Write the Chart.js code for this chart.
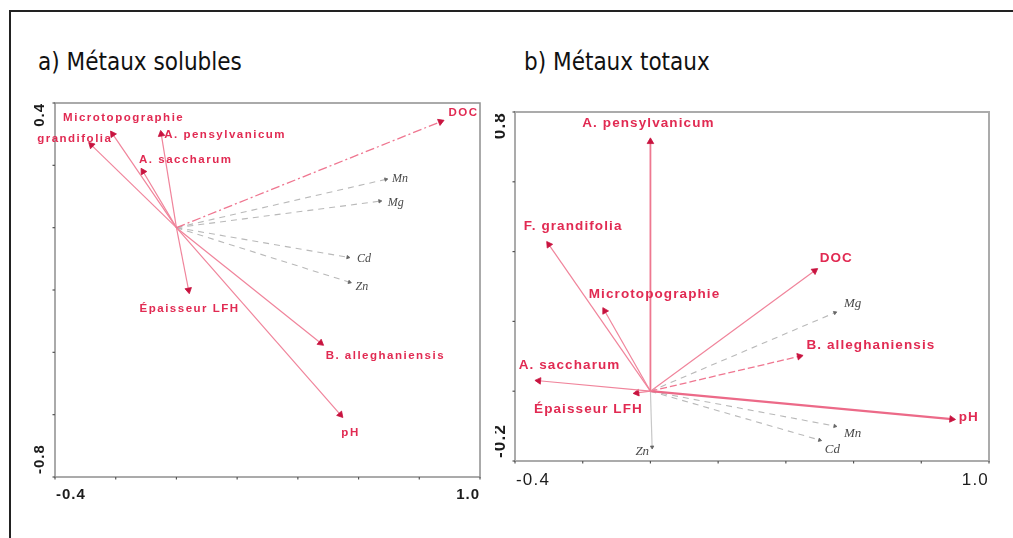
<!DOCTYPE html>
<html lang="fr">
<head>
<meta charset="utf-8">
<title>Métaux solubles et totaux – biplots</title>
<script src="https://cdn.jsdelivr.net/npm/chart.js@4.4.0/dist/chart.umd.min.js"></script>
<style>
  html, body { margin: 0; padding: 0; background: #fff; }
  #page { position: relative; width: 1013px; height: 538px; overflow: hidden; background: #fff; }
  .frame-top { position: absolute; left: 10px; top: 10px; width: 1003px; height: 2px; background: #222; }
  .frame-left { position: absolute; left: 9px; top: 10px; width: 2px; height: 528px; background: #222; }
  .title { position: absolute; font-family: "DejaVu Sans Condensed", "DejaVu Sans", sans-serif; font-stretch: condensed;
           font-size: 24px; color: #111; white-space: nowrap; line-height: 1; }
  canvas { position: absolute; top: 0; }
</style>
</head>
<body>
<div id="page">
  <div class="frame-top"></div>
  <div class="frame-left"></div>
  <div class="title" style="left:38px; top:50px;">a) Métaux solubles</div>
  <div class="title" style="left:524px; top:50px;">b) Métaux totaux</div>
  <canvas id="solubles" width="500" height="538" style="left:0px;"></canvas>
  <canvas id="totaux" width="518" height="538" style="left:495px;"></canvas>
</div>
<script>
// ---- Axis ranges and ticks ----
const xTicks = [-0.4, -0.2, 0.0, 0.2, 0.4, 0.6, 0.8, 1.0];
const yTicksSolubles = [-0.8, -0.6, -0.4, -0.2, 0.0, 0.2, 0.4];
const yTicksTotaux = [-0.2, 0.0, 0.2, 0.4, 0.6, 0.8];
const xTickLabels = ["-0.4", "1.0"];
const yTickLabelsSolubles = ["-0.8", "0.4"];
const yTickLabelsTotaux = ["-0.2", "0.8"];

// ---- a) Métaux solubles : vector end points ----
const namesSolubles = ["DOC", "Microtopographie", "grandifolia", "A. pensylvanicum", "A. saccharum",
  "Épaisseur LFH", "B. alleghaniensis", "pH", "Mn", "Mg", "Cd", "Zn"];
const xSolubles = [0.87, -0.21, -0.28, -0.05, -0.11, 0.04, 0.475, 0.54, 0.69, 0.67, 0.565, 0.57];
const ySolubles = [0.34, 0.30, 0.265, 0.30, 0.18, -0.20, -0.37, -0.60, 0.155, 0.085, -0.095, -0.175];

// ---- b) Métaux totaux : vector end points ----
const namesTotaux = ["A. pensylvanicum", "F. grandifolia", "Microtopographie", "DOC", "Mg",
  "B. alleghaniensis", "A. saccharum", "Épaisseur LFH", "pH", "Mn", "Cd", "Zn"];
const xTotaux = [0.0, -0.30, -0.135, 0.485, 0.545, 0.44, -0.33, -0.04, 0.89, 0.545, 0.50, 0.005];
const yTotaux = [0.715, 0.42, 0.23, 0.345, 0.225, 0.10, 0.03, -0.005, -0.08, -0.10, -0.14, -0.16];

const metals = ["Mn", "Mg", "Cd", "Zn"];

// ---- Styling ----
const PINK_LINE = "#f0849b";
const RED_HEAD = "#c8133f";
const RED_TEXT = "#e12a52";
const GREY_LINE = "#b9b9b9";
const GREY_TEXT = "#4a4a4a";

// Label placement relative to the arrow tip (pixels): [dx, dy, align]
const labelPosSolubles = {
  "DOC": [8, -9, "left"], "Microtopographie": [11, -16, "center"], "grandifolia": [21, -6, "right"],
  "A. pensylvanicum": [3, 1, "left"], "A. saccharum": [-4, -12, "left"], "Épaisseur LFH": [1, 19, "center"],
  "B. alleghaniensis": [5, 13, "left"], "pH": [1, 18, "left"],
  "Mn": [6, -1, "left"], "Mg": [8, 2, "left"], "Cd": [9, 2, "left"], "Zn": [6, 5, "left"]
};
const labelPosTotaux = {
  "A. pensylvanicum": [-2, -18, "center"], "F. grandifolia": [-25, -18, "left"], "Microtopographie": [-16, -17, "left"],
  "DOC": [5, -13, "left"], "Mg": [9, -9, "left"], "B. alleghaniensis": [7, -11, "left"],
  "A. saccharum": [-20, -15, "left"], "Épaisseur LFH": [6, 16, "right"], "pH": [7, -2, "left"],
  "Mn": [9, 7, "left"], "Cd": [5, 10, "left"], "Zn": [-3, 5, "right"]
};

function lineStyle(panel, name) {
  const isMetal = metals.includes(name);
  if (isMetal) {
    if (panel === "b" && name === "Zn") return { color: "#c8c8c8", width: 1.2, dash: [] };
    return { color: GREY_LINE, width: 1.1, dash: [6, 5] };
  }
  if (panel === "a" && name === "DOC") return { color: "#ef7690", width: 1.3, dash: [9, 3, 2, 3] };
  if (panel === "b" && name === "B. alleghaniensis") return { color: "#ef7690", width: 1.3, dash: [7, 3] };
  if (panel === "b" && name === "pH") return { color: "#ec6a88", width: 2.2, dash: [] };
  if (panel === "b" && name === "A. pensylvanicum") return { color: "#ee7890", width: 1.8, dash: [] };
  return { color: PINK_LINE, width: 1.2, dash: [] };
}

function arrowAngle(ctx) {
  const chart = ctx.chart;
  const p = ctx.raw;
  const sx = chart.scales.x, sy = chart.scales.y;
  const dx = sx.getPixelForValue(p.x) - sx.getPixelForValue(0);
  const dy = sy.getPixelForValue(p.y) - sy.getPixelForValue(0);
  return Math.atan2(dx, -dy) * 180 / Math.PI;
}

function buildDatasets(panel, names, xs, ys) {
  return names.map((name, i) => {
    const st = lineStyle(panel, name);
    const isMetal = metals.includes(name);
    return {
      label: name,
      data: [{ x: 0, y: 0 }, { x: xs[i], y: ys[i] }],
      showLine: true,
      borderColor: st.color,
      borderWidth: st.width,
      borderDash: st.dash,
      pointRadius: [0, isMetal ? 2 : 3.8],
      pointStyle: "triangle",
      pointBackgroundColor: isMetal ? "#666" : RED_HEAD,
      pointBorderColor: isMetal ? "#666" : RED_HEAD,
      pointBorderWidth: 0.8,
      rotation: arrowAngle,
      clip: false,
      order: isMetal ? 2 : 1
    };
  });
}

// Frame, tick marks and end-of-axis labels drawn from the chart's scales
function axesPlugin(cfg) {
  return {
    id: "biplotAxes",
    beforeDatasetsDraw(chart) {
      const { ctx, chartArea: a, scales } = chart;
      const sx = scales.x, sy = scales.y;
      ctx.save();
      ctx.strokeStyle = cfg.frameColor;
      ctx.lineWidth = cfg.frameWidth;
      ctx.strokeRect(a.left, a.top, a.right - a.left, a.bottom - a.top);
      ctx.strokeStyle = "#555";
      ctx.lineWidth = 1.2;
      xTicks.forEach(v => {
        const px = sx.getPixelForValue(v);
        ctx.beginPath(); ctx.moveTo(px, a.bottom); ctx.lineTo(px, a.bottom + 2.5); ctx.stroke();
      });
      cfg.yTicks.forEach(v => {
        const py = sy.getPixelForValue(v);
        ctx.beginPath(); ctx.moveTo(a.left, py); ctx.lineTo(a.left - 2.5, py); ctx.stroke();
      });
      ctx.fillStyle = "#1c1c1c";
      if ("letterSpacing" in ctx) ctx.letterSpacing = cfg.tickSpacing;
      ctx.textBaseline = "middle";
      ctx.font = cfg.tickFont;
      ctx.textAlign = "left";
      ctx.fillText(xTickLabels[0], sx.getPixelForValue(xTicks[0]) + 1, a.bottom + cfg.xLabelGap);
      ctx.textAlign = "right";
      ctx.fillText(xTickLabels[1], sx.getPixelForValue(xTicks[xTicks.length - 1]), a.bottom + cfg.xLabelGap);
      const yMin = cfg.yTicks[0], yMax = cfg.yTicks[cfg.yTicks.length - 1];
      ctx.font = cfg.yTickFont;
      ctx.save();
      ctx.translate(a.left - cfg.yLabelGap, sy.getPixelForValue(yMax));
      ctx.rotate(-Math.PI / 2);
      ctx.textAlign = "right";
      ctx.fillText(cfg.yLabels[1], 0, 0);
      ctx.restore();
      ctx.save();
      ctx.translate(a.left - cfg.yLabelGap, sy.getPixelForValue(yMin));
      ctx.rotate(-Math.PI / 2);
      ctx.textAlign = "left";
      ctx.fillText(cfg.yLabels[0], 3, 0);
      ctx.restore();
      ctx.restore();
    }
  };
}

// Names of the vectors next to each arrow tip
function labelPlugin(cfg) {
  return {
    id: "vectorLabels",
    afterDatasetsDraw(chart) {
      const { ctx, scales } = chart;
      ctx.save();
      ctx.textBaseline = "middle";
      chart.data.datasets.forEach(ds => {
        const name = ds.label;
        const tip = ds.data[1];
        const px = scales.x.getPixelForValue(tip.x);
        const py = scales.y.getPixelForValue(tip.y);
        const pos = cfg.positions[name];
        const isMetal = metals.includes(name);
        ctx.font = isMetal ? cfg.metalFont : cfg.font;
        ctx.fillStyle = isMetal ? GREY_TEXT : RED_TEXT;
        if ("letterSpacing" in ctx) ctx.letterSpacing = isMetal ? "0px" : cfg.spacing;
        ctx.textAlign = pos[2];
        ctx.fillText(name, px + pos[0], py + pos[1]);
      });
      ctx.restore();
    }
  };
}

function makeChart(id, panel, names, xs, ys, yMin, yMax, padding, axesCfg, labelCfg) {
  return new Chart(document.getElementById(id), {
    type: "scatter",
    data: { datasets: buildDatasets(panel, names, xs, ys) },
    options: {
      responsive: false,
      animation: false,
      events: [],
      layout: { padding },
      scales: {
        x: { type: "linear", min: -0.4, max: 1.0, display: false },
        y: { type: "linear", min: yMin, max: yMax, display: false }
      },
      plugins: { legend: { display: false }, tooltip: { enabled: false } }
    },
    plugins: [axesPlugin(axesCfg), labelPlugin(labelCfg)]
  });
}

makeChart("solubles", "a", namesSolubles, xSolubles, ySolubles, -0.8, 0.4,
  { left: 55, top: 103, right: 20, bottom: 61 },
  { frameColor: "#8f8f8f", frameWidth: 1.5, yTicks: yTicksSolubles, yLabels: yTickLabelsSolubles,
    tickFont: "bold 15px 'Liberation Sans', Arial, sans-serif", yTickFont: "bold 15px 'Liberation Sans', Arial, sans-serif",
    tickSpacing: "1px", xLabelGap: 18, yLabelGap: 15 },
  { positions: labelPosSolubles, font: "bold 11.5px 'Liberation Sans', Arial, sans-serif", spacing: "1.5px",
    metalFont: "italic 12px 'Liberation Serif', 'DejaVu Serif', serif" });

makeChart("totaux", "b", namesTotaux, xTotaux, yTotaux, -0.2, 0.8,
  { left: 20, top: 112, right: 24, bottom: 77 },
  { frameColor: "#ababab", frameWidth: 2, yTicks: yTicksTotaux, yLabels: yTickLabelsTotaux,
    tickFont: "17px 'Liberation Sans', Arial, sans-serif", yTickFont: "bold 17px 'Liberation Sans', Arial, sans-serif",
    tickSpacing: "1.2px", xLabelGap: 19, yLabelGap: 15 },
  { positions: labelPosTotaux, font: "bold 13.5px 'Liberation Sans', Arial, sans-serif", spacing: "1.1px",
    metalFont: "italic 13px 'Liberation Serif', 'DejaVu Serif', serif" });
</script>
</body>
</html>
